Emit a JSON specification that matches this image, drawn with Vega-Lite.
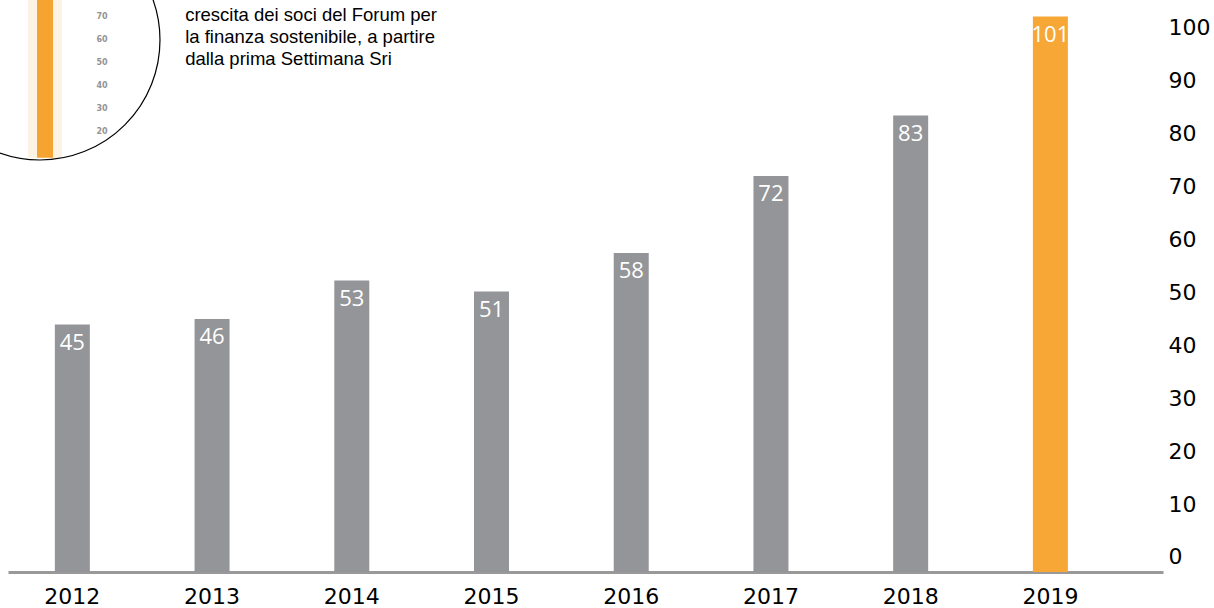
{
  "$schema": "https://vega.github.io/schema/vega-lite/v6.json",
  "width": 1155,
  "height": 572,
  "autosize": {"type": "none"},
  "padding": {"left": 8, "top": 0, "right": 51, "bottom": 36},
  "background": "white",
  "config": {"view": {"stroke": null}, "font": "DejaVu Sans"},
  "datasets": {
    "members": [
      {"year": "2012", "value": 45},
      {"year": "2013", "value": 46},
      {"year": "2014", "value": 53},
      {"year": "2015", "value": 51},
      {"year": "2016", "value": 58},
      {"year": "2017", "value": 72},
      {"year": "2018", "value": 83},
      {"year": "2019", "value": 101}
    ],
    "thermo": [
      {"tick": 70}, {"tick": 60}, {"tick": 50}, {"tick": 40}, {"tick": 30}, {"tick": 20}
    ],
    "note": [
      {"text": "crescita dei soci del Forum per|la finanza sostenibile, a partire|dalla prima Settimana Sri"}
    ]
  },
  "layer": [
    {
      "data": {"name": "members"},
      "encoding": {
        "x": {
          "field": "year",
          "type": "ordinal",
          "scale": {"paddingInner": 0.7495, "paddingOuter": 0.508, "align": 0.33},
          "axis": {
            "title": null,
            "ticks": false,
            "tickSize": 0,
            "labelPadding": 14,
            "labelFontSize": 22,
            "labelColor": "#000000",
            "labelFont": "DejaVu Sans",
            "labelAngle": 0,
            "domainColor": "#999999",
            "domainWidth": 3,
            "grid": false
          }
        },
        "y": {
          "field": "value",
          "type": "quantitative",
          "scale": {"domain": [0, 104], "nice": false, "zero": true},
          "axis": null
        }
      },
      "layer": [
        {
          "mark": {"type": "bar"},
          "encoding": {
            "color": {
              "condition": {"test": "datum.year === '2019'", "value": "#F6A735"},
              "value": "#939598"
            }
          }
        },
        {
          "mark": {"type": "text", "baseline": "middle", "dy": 18, "fontSize": 22, "font": "Open Sans", "color": "#ffffff"},
          "encoding": {"text": {"field": "value", "type": "quantitative"}}
        }
      ]
    },
    {
      "data": {"name": "members"},
      "mark": {"type": "point", "opacity": 0},
      "encoding": {
        "y": {
          "field": "value",
          "type": "quantitative",
          "scale": {"domain": [-2.84, 105.29], "nice": false, "zero": false},
          "axis": {
            "orient": "right",
            "values": [0, 10, 20, 30, 40, 50, 60, 70, 80, 90, 100],
            "title": null,
            "domain": false,
            "ticks": false,
            "grid": false,
            "labelPadding": 5,
            "labelFontSize": 22,
            "labelColor": "#000000",
            "labelFont": "DejaVu Sans"
          }
        }
      }
    },
    {
      "data": {"name": "note"},
      "layer": [
        {
          "mark": {"type": "rule", "color": "#FCEBD2", "strokeWidth": 34, "opacity": 0.6},
          "encoding": {
            "x": {"datum": 2011.807, "type": "quantitative", "scale": {"domain": [2011.542, 2019.81], "nice": false, "zero": false}, "axis": null},
            "y": {"datum": 110, "type": "quantitative", "scale": {"domain": [0, 104], "nice": false, "zero": false}, "axis": null},
            "y2": {"datum": 75.3}
          }
        },
        {
          "mark": {"type": "rule", "color": "#F5A431", "strokeWidth": 16},
          "encoding": {
            "x": {"datum": 2011.807, "type": "quantitative"},
            "y": {"datum": 110, "type": "quantitative"},
            "y2": {"datum": 75.3}
          }
        },
        {
          "mark": {"type": "point", "shape": "circle", "size": 57600, "filled": false, "stroke": "#000000", "strokeWidth": 1.2, "opacity": 1},
          "encoding": {
            "x": {"datum": 2011.771, "type": "quantitative"},
            "y": {"datum": 96.73, "type": "quantitative"}
          }
        },
        {
          "mark": {"type": "text", "align": "left", "baseline": "top", "fontSize": 18.5, "font": "Liberation Sans", "lineHeight": 22, "color": "#000000", "lineBreak": "|"},
          "encoding": {
            "x": {"datum": 2012.81, "type": "quantitative"},
            "y": {"datum": 102.9, "type": "quantitative"},
            "text": {"field": "text"}
          }
        }
      ]
    },
    {
      "data": {"name": "thermo"},
      "mark": {"type": "text", "fontSize": 8, "fontWeight": "bold", "color": "#666666", "opacity": 0.7},
      "encoding": {
        "x": {"datum": 2012.215, "type": "quantitative", "scale": {"domain": [2011.542, 2019.81], "nice": false, "zero": false}, "axis": null},
        "y": {"field": "tick", "type": "quantitative", "scale": {"domain": [-172.4, 77.56], "nice": false, "zero": false}, "axis": null},
        "text": {"field": "tick", "type": "quantitative"}
      }
    }
  ],
  "resolve": {"scale": {"x": "independent", "y": "independent"}}
}
